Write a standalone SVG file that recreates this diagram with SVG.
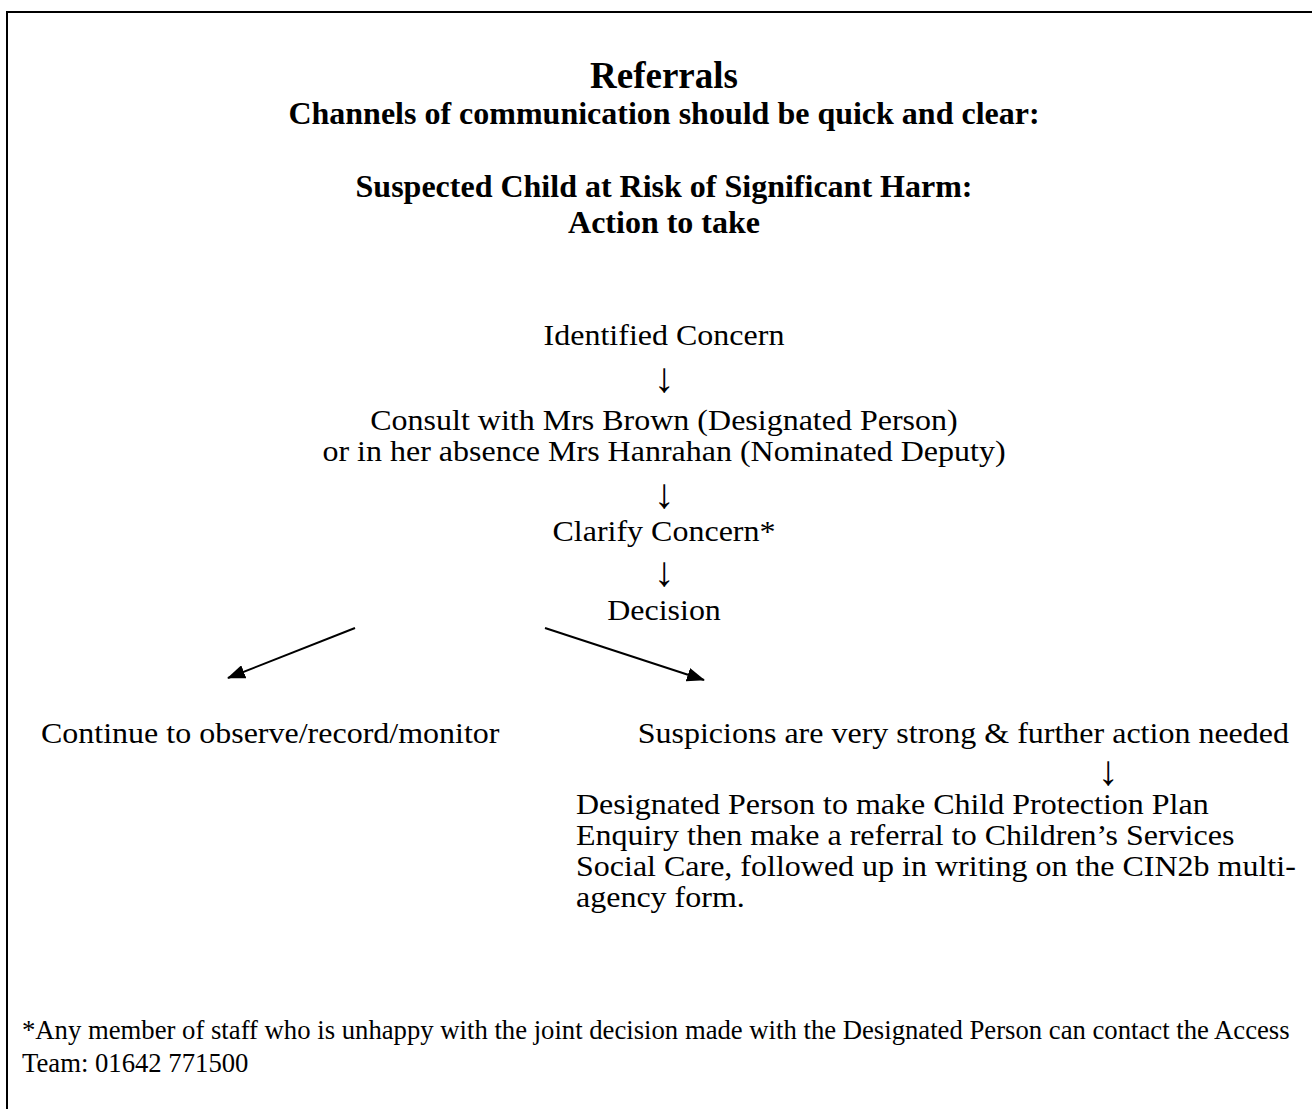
<svg xmlns="http://www.w3.org/2000/svg" width="1312" height="1109" viewBox="0 0 1312 1109">
<style>
text { font-family: "Liberation Serif", "Times New Roman", serif; fill: #000; }
.h { font-weight: bold; font-size: 32px; text-anchor: middle; }
.t { font-size: 37px; font-weight: bold; text-anchor: middle; }
.c { font-size: 32px; text-anchor: middle; }
.l { font-size: 32px; }
.e { font-size: 32px; text-anchor: end; }
.a { font-size: 42px; text-anchor: middle; }
.f { font-size: 26.7px; }
.conn { stroke: #000; stroke-width: 2; fill: none; }
</style>
<defs>
<marker id="ah" markerWidth="18" markerHeight="14" refX="17" refY="7" orient="auto" markerUnits="userSpaceOnUse">
<path d="M0,0 L18,7 L0,14 Z" fill="#000"/>
</marker>
</defs>
<rect x="7" y="12" width="1320" height="1110" fill="#fff" stroke="#000" stroke-width="2"/>
<g id="heading">
<text class="t" x="664" y="88">Referrals</text>
<text class="h" x="664" y="124">Channels of communication should be quick and clear:</text>
<text class="h" x="664" y="197">Suspected Child at Risk of Significant Harm:</text>
<text class="h" x="664" y="233">Action to take</text>
</g>
<g id="n-identified"><text class="c" transform="translate(664,345) scale(1,0.9)">Identified Concern</text></g>
<g id="n-consult">
<text class="c" transform="translate(664,430) scale(1,0.9)">Consult with Mrs Brown (Designated Person)</text>
<text class="c" transform="translate(664,461) scale(1,0.9)">or in her absence Mrs Hanrahan (Nominated Deputy)</text>
</g>
<g id="n-clarify"><text class="c" transform="translate(664,541) scale(1,0.9)">Clarify Concern*</text></g>
<g id="n-decision"><text class="c" transform="translate(664,620) scale(1,0.9)">Decision</text></g>
<g id="n-continue"><text class="l" transform="translate(41,743) scale(1,0.9)">Continue to observe/record/monitor</text></g>
<g id="n-suspicions"><text class="e" transform="translate(1289,743) scale(1,0.9)">Suspicions are very strong &amp; further action needed</text></g>
<g id="n-designated">
<text class="l" transform="translate(576,814) scale(1,0.9)">Designated Person to make Child Protection Plan</text>
<text class="l" transform="translate(576,845) scale(1,0.9)">Enquiry then make a referral to Children’s Services</text>
<text class="l" transform="translate(576,876) scale(1,0.9)">Social Care, followed up in writing on the CIN2b multi-</text>
<text class="l" transform="translate(576,907) scale(1,0.9)">agency form.</text>
</g>
<g id="connectors">
<text class="a" x="664" y="392">↓</text>
<text class="a" x="664" y="508">↓</text>
<text class="a" x="664" y="586">↓</text>
<text class="a" x="1108" y="785">↓</text>
<line class="conn" x1="355" y1="628" x2="228" y2="678" marker-end="url(#ah)"/>
<line class="conn" x1="545" y1="628" x2="704" y2="680" marker-end="url(#ah)"/>
</g>
<g id="footnote">
<text class="f" x="22" y="1039">*Any member of staff who is unhappy with the joint decision made with the Designated Person can contact the Access</text>
<text class="f" x="22" y="1072">Team: 01642 771500</text>
</g>
</svg>
